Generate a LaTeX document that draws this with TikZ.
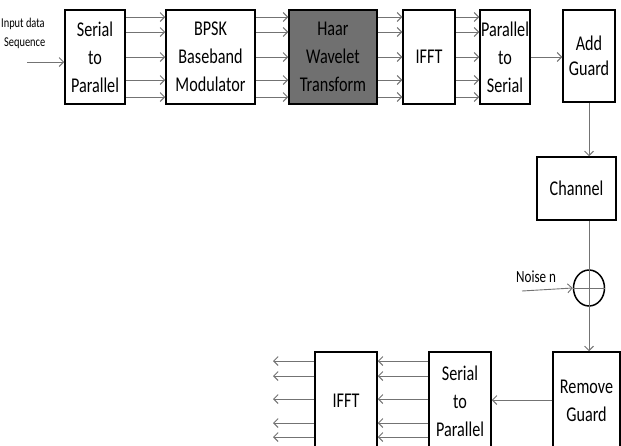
\documentclass[tikz,border=0pt]{standalone}
\usepackage{fontspec}
\setmainfont{Carlito}[FakeStretch=0.77]
\usetikzlibrary{arrows.meta,shapes.geometric}
\definecolor{linegray}{RGB}{115,115,115}
\definecolor{haarfill}{RGB}{112,112,112}
\tikzset{
  blk/.style={draw=black, line width=1.5pt, align=center, inner sep=0pt,
    font=\fontsize{21}{28}\selectfont},
  arr/.style={draw=linegray, line width=0.9pt,
    -{Straight Barb[length=4.5pt,width=9pt,line width=0.9pt]}},
  plain/.style={draw=linegray, line width=0.9pt},
  lbl/.style={inner sep=0pt, font=\fontsize{13.5}{15}\selectfont}
}
\begin{document}
\begin{tikzpicture}[x=1pt,y=-1pt]
\useasboundingbox (0,0) rectangle (621,445);
\clip (0,0) rectangle (621,445);
% top row
\node[blk, minimum width=60, minimum height=94] (sp1) at (95,57) {Serial\\to\\Parallel};
\node[blk, minimum width=89, minimum height=94] (bpsk) at (210.5,57) {BPSK\\Baseband\\Modulator};
\node[blk, fill=haarfill, minimum width=88, minimum height=94] (haar) at (333,57) {Haar\\Wavelet\\Transform};
\node[blk, minimum width=52, minimum height=94] (ifft1) at (429,57) {IFFT};
\node[blk, minimum width=50, minimum height=94] (ps) at (505,57) {Parallel\\to\\Serial};
\node[blk, font=\fontsize{21}{25}\selectfont, minimum width=52, minimum height=92] (ag) at (589,56) {Add\\Guard};
% channel
\node[blk, minimum width=79, minimum height=63] (ch) at (576.5,188.5) {Channel};
\node[draw=black, line width=1.5pt, ellipse, minimum width=31, minimum height=36, inner sep=0pt] (sum) at (589,288) {};
% bottom row
\node[blk, minimum width=67, minimum height=98] (rg) at (586.5,401) {Remove\\Guard};
\node[blk, minimum width=62, minimum height=98] (sp2) at (460,401) {Serial\\to\\Parallel};
\node[blk, minimum width=62, minimum height=98] (ifft2) at (346,401) {IFFT};
% labels
\node[lbl, anchor=west] (in1) at (1,24) {Input data};
\node[lbl, anchor=west] (in2) at (4,43) {Sequence};
\node[inner sep=0pt, font=\fontsize{17}{18}\selectfont, anchor=west] (nz) at (516,277) {Noise n};
\coordinate (inS) at (27,62);
\coordinate (nzS) at (522,291);
% input
\draw[arr] (inS) -- (sp1.west |- inS);
% top multi-arrows
\foreach \yy in {17,32,57,80,97}{
  \draw[arr] (sp1.east |- 0,\yy) -- (bpsk.west |- 0,\yy);
  \draw[arr] (bpsk.east |- 0,\yy) -- (haar.west |- 0,\yy);
  \draw[arr] (haar.east |- 0,\yy) -- (ifft1.west |- 0,\yy);
  \draw[arr] (ifft1.east |- 0,\yy) -- (ps.west |- 0,\yy);
}
\draw[arr] (ps.east |- 0,57) -- (ag.west |- 0,57);
% vertical path
\draw[arr] (ag.south) -- (ag.south |- ch.north);
\draw[arr] (ag.south |- ch.south) -- (ag.south |- rg.north);
\draw[plain] (sum.west) -- (sum.east);
\draw[arr] (nzS) -- (sum.west);
% bottom arrows
\draw[arr] (rg.west |- 0,400) -- (sp2.east |- 0,400);
\foreach \yy in {361,376,399,423,437}{
  \draw[arr] (sp2.west |- 0,\yy) -- (ifft2.east |- 0,\yy);
  \coordinate (o\yy) at (273,\yy);
  \draw[arr] (ifft2.west |- 0,\yy) -- (o\yy);
}
\end{tikzpicture}
\end{document}
